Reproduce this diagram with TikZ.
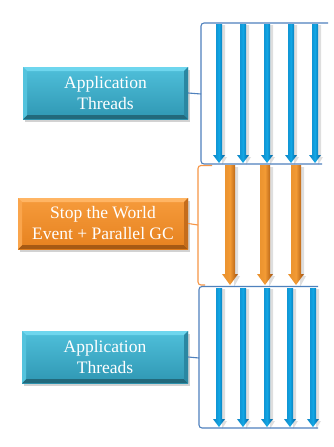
\documentclass[tikz,border=0pt]{standalone}
\usepackage{fontspec}
\setmainfont{Liberation Serif}
\usetikzlibrary{shadows}
\definecolor{bracketblue}{HTML}{4F81BD}
\definecolor{bracketorange}{HTML}{F79646}
\definecolor{cyanA}{HTML}{6ED6EE}
\definecolor{cyanB}{HTML}{42B6D2}
\definecolor{cyanC}{HTML}{2F97B3}
\definecolor{cyanD}{HTML}{22697C}
\definecolor{cyanE}{HTML}{2A87A2}
\definecolor{orA}{HTML}{FFB564}
\definecolor{orB}{HTML}{F69B3C}
\definecolor{orC}{HTML}{E6821F}
\definecolor{orD}{HTML}{A65A14}
\definecolor{orE}{HTML}{C56D1C}
\definecolor{arrL}{HTML}{0E86C6}
\definecolor{arrM}{HTML}{12A6E4}
\definecolor{arrR}{HTML}{005E9C}
\definecolor{oarrL}{HTML}{E8902C}
\definecolor{oarrM}{HTML}{F29A34}
\definecolor{oarrR}{HTML}{A04E0A}
\tikzset{
  x=1pt, y=1pt,
  labelbox/.style={minimum width=#1, inner sep=0pt, align=center,
    text=white, font=\fontsize{17.5}{21}\selectfont,
    drop shadow={opacity=0.35, shadow xshift=1.5pt, shadow yshift=-2.5pt}},
  bevel/.style n args={4}{path picture={
    \fill[#1] (path picture bounding box.north west) -- (path picture bounding box.north east)
      -- ([shift={(-4pt,-4pt)}]path picture bounding box.north east) -- ([shift={(4pt,-4pt)}]path picture bounding box.north west) -- cycle;
    \fill[#2] (path picture bounding box.south west) -- (path picture bounding box.south east)
      -- ([shift={(-4pt,4pt)}]path picture bounding box.south east) -- ([shift={(4pt,4pt)}]path picture bounding box.south west) -- cycle;
    \fill[#3] (path picture bounding box.north west) -- ([shift={(4pt,-4pt)}]path picture bounding box.north west)
      -- ([shift={(4pt,4pt)}]path picture bounding box.south west) -- (path picture bounding box.south west) -- cycle;
    \fill[#4] (path picture bounding box.north east) -- ([shift={(-4pt,-4pt)}]path picture bounding box.north east)
      -- ([shift={(-4pt,4pt)}]path picture bounding box.south east) -- (path picture bounding box.south east) -- cycle;
  }},
  cyanbox/.style={labelbox=#1, top color=cyanB!70!cyanA, bottom color=cyanC,
    bevel={cyanA}{cyanD}{cyanB!60!cyanA}{cyanE}},
  orangebox/.style={labelbox=#1, top color=orB, bottom color=orC,
    bevel={orA}{orD}{orB!60!orA}{orE}},
  bluebracket/.style={draw=bracketblue, line width=1.1pt, rounded corners=3pt},
  orangebracket/.style={draw=bracketorange, line width=1.1pt, rounded corners=3pt},
  bluearrow/.style={left color=arrL, right color=arrR, middle color=arrM},
  orangearrow/.style={left color=oarrL, right color=oarrR, middle color=oarrM},
  arrowshadow/.style={fill=black, opacity=0.13},
}
\begin{document}
\begin{tikzpicture}
\useasboundingbox (0,0) rectangle (334,-447);
\fill[white] (0,0) rectangle (334,-447);

% boxes
\node[cyanbox=165pt, minimum height=52pt] (app1) at (105.5,-93) {Application\\Threads};
\node[orangebox=170pt, minimum height=51pt] (stw) at (103,-223.5) {Stop the World\\Event + Parallel GC};
\node[cyanbox=166pt, minimum height=52pt] (app2) at (105,-357) {Application\\Threads};

% blue arrows, top group
\foreach \x in {219,243,267,291,315}{
  \fill[arrowshadow] (\x+3,-25) -- (\x+6,-25) -- (\x+6,-157) -- (\x+8,-157) -- (\x+3,-165) -- cycle;
  \shade[bluearrow] (\x-3,-24) -- (\x+3,-24) -- (\x+3,-155) -- (\x+6,-155) -- (\x,-163) -- (\x-6,-155) -- (\x-3,-155) -- cycle;
}
% orange arrows
\foreach \x in {230,265,296}{
  \fill[arrowshadow] (\x+5,-167) -- (\x+8,-167) -- (\x+8,-276) -- (\x+10,-276) -- (\x+4,-287) -- cycle;
  \shade[orangearrow] (\x-5,-165) -- (\x+5,-165) -- (\x+5,-274) -- (\x+8,-274) -- (\x,-285) -- (\x-8,-274) -- (\x-5,-274) -- cycle;
}
% blue arrows, bottom group
\foreach \x in {219,243,267,290,313}{
  \fill[arrowshadow] (\x+3,-289) -- (\x+6,-289) -- (\x+6,-421) -- (\x+8,-421) -- (\x+3,-429) -- cycle;
  \shade[bluearrow] (\x-3,-288) -- (\x+3,-288) -- (\x+3,-419) -- (\x+6,-419) -- (\x,-427) -- (\x-6,-419) -- (\x-3,-419) -- cycle;
}

% brackets
\coordinate (b1) at (201,-94);
\coordinate (b2) at (198,-225);
\coordinate (b3) at (199,-358);
\draw[bluebracket] (328,-23) -- (201,-23) -- (201,-164) -- (322,-164);
\draw[orangebracket] (212,-165.5) -- (198,-165.5) -- (198,-285) -- (205,-285);
\draw[bluebracket] (318,-286.5) -- (199,-286.5) -- (199,-428) -- (318,-428);

% connectors
\draw[bracketblue, line width=1.1pt] (app1.east) -- (b1);
\draw[bracketorange, line width=1.1pt] (stw.east) -- (b2);
\draw[bracketblue, line width=1.1pt] (app2.east) -- (b3);
\end{tikzpicture}
\end{document}
